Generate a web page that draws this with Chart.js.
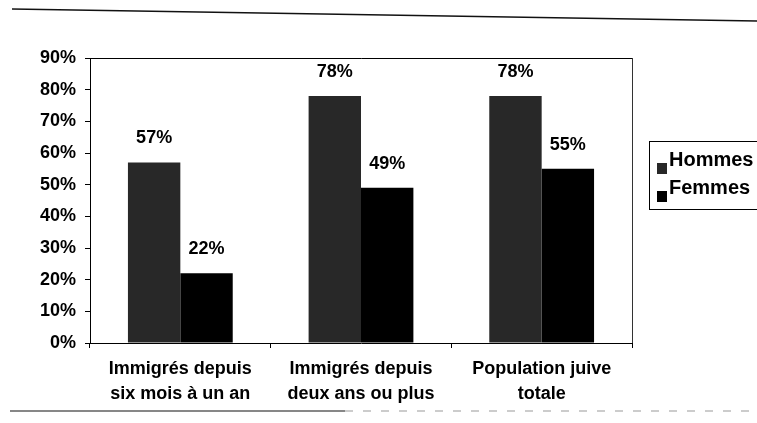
<!DOCTYPE html>
<html>
<head>
<meta charset="utf-8">
<script src="https://cdn.jsdelivr.net/npm/chart.js@4.4.1/dist/chart.umd.min.js"></script>
<style>
  html, body { margin: 0; padding: 0; background: #fff; }
  #wrap { position: relative; width: 757px; height: 423px; }
</style>
</head>
<body>
<div id="wrap"><canvas id="c" width="757" height="423"></canvas></div>
<script>
const categories = [["Immigrés depuis", "six mois à un an"], ["Immigrés depuis", "deux ans ou plus"], ["Population juive", "totale"]];
const seriesNames = ["Hommes", "Femmes"];
const hommes = [57, 78, 78];
const femmes = [22, 49, 55];
const yMin = 0, yMax = 90, yStep = 10;

const FONT = { family: "'Liberation Sans', Arial, sans-serif", size: 18, weight: 'bold' };
const XFONT = { family: "'Liberation Sans', Arial, sans-serif", size: 18, weight: 'bold', lineHeight: 1.4 };
const barColors = ['#282828', '#000000'];

const decoPlugin = {
  id: 'deco',
  beforeDraw(chart) {
    const ctx = chart.ctx;
    ctx.save();
    ctx.fillStyle = '#fff';
    ctx.fillRect(0, 0, chart.width, chart.height);
    // scanned page frame lines
    ctx.strokeStyle = '#111';
    ctx.lineWidth = 1.5;
    ctx.beginPath(); ctx.moveTo(12, 9); ctx.lineTo(757, 21); ctx.stroke();
    ctx.lineWidth = 1.2;
    ctx.beginPath(); ctx.moveTo(10, 411); ctx.lineTo(345, 411); ctx.stroke();
    ctx.strokeStyle = '#999';
    ctx.setLineDash([8, 10]);
    ctx.beginPath(); ctx.moveTo(345, 411); ctx.lineTo(757, 411); ctx.stroke();
    ctx.restore();
  },
  afterDraw(chart) {
    const ctx = chart.ctx;
    const a = chart.chartArea;
    ctx.save();
    // plot area border
    ctx.strokeStyle = '#000';
    ctx.lineWidth = 1;
    ctx.beginPath();
    ctx.moveTo(a.left, a.top + 0.5); ctx.lineTo(a.right + 0.5, a.top + 0.5);
    ctx.stroke();
    ctx.strokeStyle = '#333';
    ctx.beginPath();
    ctx.moveTo(a.right + 0.5, a.top); ctx.lineTo(a.right + 0.5, a.bottom);
    ctx.stroke();
    // legend box
    const lx = a.right + 17, ly = 141;
    ctx.strokeStyle = '#000';
    ctx.strokeRect(lx + 0.5, ly + 0.5, 130, 68);
    ctx.font = `bold 20px ${FONT.family}`;
    ctx.textBaseline = 'middle';
    ctx.textAlign = 'left';
    chart.data.datasets.forEach((ds, i) => {
      const cy = ly + 19 + i * 28;
      ctx.fillStyle = ds.backgroundColor;
      ctx.fillRect(lx + 8, cy + 3, 10, 11);
      ctx.fillStyle = '#000';
      ctx.fillText(ds.label, lx + 20, cy);
    });
    ctx.restore();
  },
  afterDatasetsDraw(chart) {
    const ctx = chart.ctx;
    ctx.save();
    ctx.font = `${FONT.weight} ${FONT.size}px ${FONT.family}`;
    ctx.fillStyle = '#000';
    ctx.textAlign = 'center';
    ctx.textBaseline = 'middle';
    chart.data.datasets.forEach((ds, di) => {
      const meta = chart.getDatasetMeta(di);
      meta.data.forEach((bar, i) => {
        ctx.fillText(ds.data[i] + '%', bar.x, bar.y - 24);
      });
    });
    ctx.restore();
  }
};

new Chart(document.getElementById('c'), {
  type: 'bar',
  data: {
    labels: categories,
    datasets: [
      { label: seriesNames[0], data: hommes, backgroundColor: barColors[0], borderWidth: 0 },
      { label: seriesNames[1], data: femmes, backgroundColor: barColors[1], borderWidth: 0 }
    ]
  },
  options: {
    responsive: false,
    animation: false,
    devicePixelRatio: 1,
    layout: { padding: { left: 0, right: 125, top: 58, bottom: 0 } },
    datasets: { bar: { categoryPercentage: 0.58, barPercentage: 1.0 } },
    plugins: { legend: { display: false }, tooltip: { enabled: false } },
    scales: {
      x: {
        offset: true,
        grid: { offset: true, drawOnChartArea: false, drawTicks: true, tickLength: 5, color: '#000' },
        border: { display: true, color: '#000', width: 1 },
        ticks: { font: XFONT, color: '#000', padding: 8, maxRotation: 0, autoSkip: false },
        afterFit(s) { s.height = 80; }
      },
      y: {
        min: yMin, max: yMax,
        grid: { drawOnChartArea: false, drawTicks: true, tickLength: 5, color: '#000' },
        border: { display: true, color: '#000', width: 1 },
        ticks: { stepSize: yStep, font: FONT, color: '#000', padding: 9, callback: v => v + '%' },
        afterFit(s) { s.width = 90; }
      }
    }
  },
  plugins: [decoPlugin]
});
</script>
</body>
</html>
